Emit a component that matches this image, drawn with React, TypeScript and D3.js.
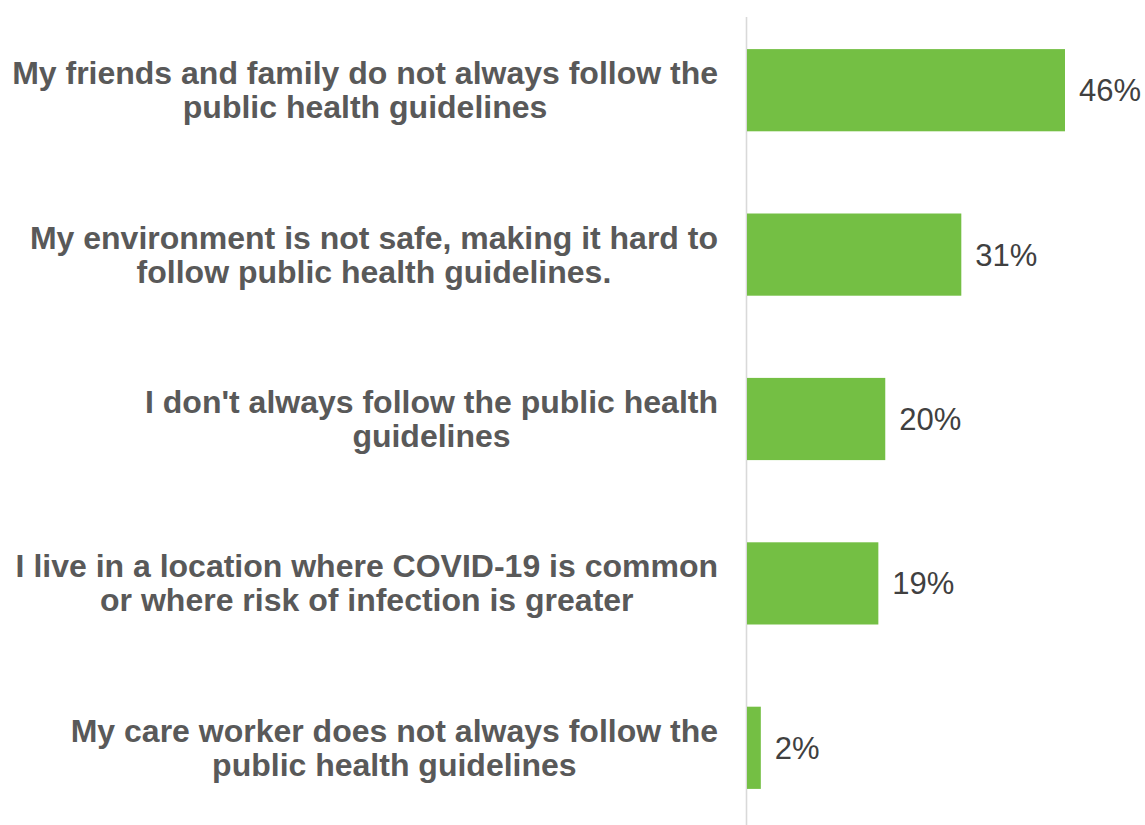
import React, { useEffect, useRef } from "react";
import * as d3 from "d3";

const categories: string[][] = [
  ["My friends and family do not always follow the", "public health guidelines"],
  ["My environment is not safe, making it hard to", "follow public health guidelines."],
  ["I don't always follow the public health", "guidelines"],
  ["I live in a location where COVID-19 is common", "or where risk of infection is greater"],
  ["My care worker does not always follow the", "public health guidelines"],
];
const values: number[] = [46, 31, 20, 19, 2];
const valueLabels: string[] = ["46%", "31%", "20%", "19%", "2%"];

const W = 1145;
const H = 825;

export default function App() {
  const ref = useRef<SVGSVGElement | null>(null);

  useEffect(() => {
    const svg = d3.select(ref.current);
    svg.selectAll("*").remove();

    const x0 = 747;
    const x = d3.scaleLinear().domain([0, 46]).range([x0, 1065]);
    const y = d3
      .scaleBand<number>()
      .domain(d3.range(categories.length))
      .range([8, 830])
      .paddingInner(0.5)
      .paddingOuter(0.25);

    svg
      .append("line")
      .attr("x1", x0 - 0.5)
      .attr("x2", x0 - 0.5)
      .attr("y1", 17)
      .attr("y2", H)
      .attr("stroke", "#d9d9d9")
      .attr("stroke-width", 1.6);

    svg
      .selectAll("rect.bar")
      .data(values)
      .enter()
      .append("rect")
      .attr("class", "bar")
      .attr("x", x0)
      .attr("y", (_d, i) => y(i)!)
      .attr("width", (d) => x(d) - x0)
      .attr("height", y.bandwidth())
      .attr("fill", "#74bf44");

    svg
      .selectAll("text.val")
      .data(values)
      .enter()
      .append("text")
      .attr("class", "val")
      .attr("x", (d) => x(d) + 14)
      .attr("y", (_d, i) => y(i)! + y.bandwidth() / 2 + 11)
      .attr("font-family", "'Liberation Sans', Arial, sans-serif")
      .attr("font-size", 31)
      .attr("fill", "#404040")
      .text((_d, i) => valueLabels[i]);

    const rightEdge = 718;
    categories.forEach((lines, i) => {
      const cy = y(i)! + y.bandwidth() / 2;
      const g = svg.append("g");
      const texts = lines.map((ln, j) =>
        g
          .append("text")
          .attr("y", cy - 6 + j * 34)
          .attr("font-family", "'Liberation Sans', Arial, sans-serif")
          .attr("font-weight", "bold")
          .attr("font-size", 32)
          .attr("fill", "#595959")
          .attr("text-anchor", "middle")
          .text(ln)
      );
      const maxW = d3.max(texts, (t) => (t.node() as SVGTextElement).getComputedTextLength()) || 0;
      texts.forEach((t) => t.attr("x", rightEdge - maxW / 2));
    });
  }, []);

  return (
    <div style={{ position: "fixed", left: 0, top: 0, background: "#fff" }}>
      <svg ref={ref} width={W} height={H} style={{ display: "block" }} />
    </div>
  );
}
